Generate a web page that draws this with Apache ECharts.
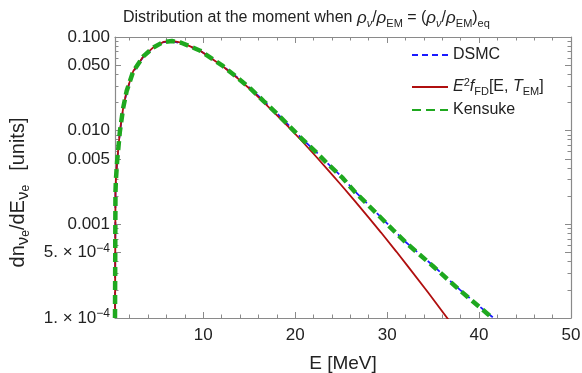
<!DOCTYPE html>
<html>
<head>
<meta charset="utf-8">
<script src="https://cdn.jsdelivr.net/npm/echarts@6/dist/echarts.min.js"></script>
<style>
  html, body { margin: 0; padding: 0; background: #fff; }
  #chart { width: 582px; height: 373px; }
</style>
</head>
<body>
<div id="chart"></div>
<script>
// values (E in MeV, dn/dE in arbitrary units)
const energyKensuke = [0.4, 0.45, 0.5, 0.63, 0.93, 1.29, 1.66, 2.38, 3.48, 4.57, 5.66, 6.6, 7.6, 8.58, 9.67, 12.04, 13.68, 15.14, 16.59, 18.05, 19.43, 20.79, 22.24, 23.7, 25.16, 26.43, 29.16, 30.6, 32.08, 35.0, 37.9, 41.0, 41.4]
const kensuke = [0.0001, 0.0022, 0.003, 0.0047, 0.0098, 0.0175, 0.0263, 0.043, 0.0621, 0.0774, 0.0885, 0.0905, 0.0868, 0.0794, 0.0714, 0.0498, 0.0371, 0.0281, 0.0206, 0.0151, 0.0110, 0.00807, 0.00593, 0.00427, 0.00313, 0.00225, 0.00122, 0.000877, 0.000632, 0.000357, 0.000198, 0.000109, 0.0001]

const energyDsmc = [0.4, 0.45, 0.5, 0.63, 0.93, 1.29, 1.66, 2.38, 3.48, 4.57, 5.66, 6.6, 7.6, 8.58, 9.67, 12.04, 13.68, 15.14, 16.59, 18.05, 19.43, 20.79, 22.24, 23.7, 25.16, 26.43, 29.16, 30.6, 32.08, 35.0, 37.9, 41.0, 41.6]
const dsmc = [0.0001, 0.0021, 0.0029, 0.0046, 0.0096, 0.0172, 0.026, 0.0425, 0.0615, 0.0768, 0.088, 0.0898, 0.0862, 0.079, 0.0712, 0.0497, 0.0372, 0.0282, 0.0207, 0.0152, 0.0111, 0.00812, 0.00598, 0.00431, 0.00316, 0.00228, 0.00124, 0.00089, 0.00064, 0.000362, 0.000201, 0.000111, 0.0001]

const energyFd = [0.4, 0.45, 0.5, 0.63, 0.93, 1.29, 1.66, 2.38, 3.48, 4.57, 5.66, 6.6, 7.6, 8.58, 9.67, 12.04, 13.68, 15.14, 16.59, 18.05, 19.43, 20.6, 22.24, 23.7, 25.0, 26.43, 28.0, 29.34, 31.0, 32.26, 34.5, 36.7]
const fd = [0.0001, 0.0022, 0.003, 0.0047, 0.0098, 0.0175, 0.0263, 0.043, 0.0621, 0.0774, 0.0885, 0.0908, 0.087, 0.0794, 0.0712, 0.0494, 0.0366, 0.0275, 0.02, 0.0145, 0.0106, 0.008, 0.00533, 0.00368, 0.00263, 0.0018, 0.00118, 0.000817, 0.000512, 0.000356, 0.000185, 0.000095]

// ticks
const xMajorTicks = [10, 20, 30, 40, 50]
const xMinorTicks = [2, 4, 6, 8, 12, 14, 16, 18, 22, 24, 26, 28, 32, 34, 36, 38, 42, 44, 46, 48]
const yMajorTicks = [0.1, 0.05, 0.01, 0.005, 0.001, 0.0005, 0.0001]
const yTickLabels = ['0.100', '0.050', '0.010', '0.005', '0.001', '5. × 10{sup|−4}', '1. × 10{sup|−4}']
const yMinorTicks = [0.09, 0.08, 0.07, 0.06, 0.04, 0.03, 0.02, 0.009, 0.008, 0.007, 0.006, 0.004, 0.003, 0.002,
  0.0009, 0.0008, 0.0007, 0.0006, 0.0004, 0.0003, 0.0002]

const legendLabels = {
  DSMC: 'DSMC',
  FD: '{i|E}{sup|2}{i|f}{sub|FD}[E, {i|T}{sub|EM}]',
  Kensuke: 'Kensuke'
}

const font = 'Liberation Sans, Arial, sans-serif'
const frameColor = '#8a8a8a'
const X_MIN = 0.4
const X_MAX = 50

const chart = echarts.init(document.getElementById('chart'))

const lg = Math.log10
const xAxisBase = (pos) => ({
  type: 'value', min: X_MIN, max: X_MAX, position: pos, gridIndex: 0,
  splitLine: { show: false },
  axisLine: { show: false },
  axisLabel: { show: false },
  axisTick: { show: false }
})
const yAxisBase = (pos) => ({
  type: 'value', min: -4, max: -1, position: pos, gridIndex: 0,
  splitLine: { show: false },
  axisLine: { show: false },
  axisLabel: { show: false },
  axisTick: { show: false }
})
const majorTick = (vals) => ({ show: true, inside: true, length: 6, customValues: vals, lineStyle: { color: frameColor, width: 1 } })
const minorTick = (vals) => ({ show: true, inside: true, length: 3.5, customValues: vals, lineStyle: { color: frameColor, width: 1 } })
const frameLine = { show: true, onZero: false, lineStyle: { color: frameColor, width: 1.2 } }

const xAxes = [
  Object.assign(xAxisBase('bottom'), {
    axisLine: frameLine,
    axisTick: majorTick(xMajorTicks),
    axisLabel: { show: true, customValues: xMajorTicks, margin: 9, fontSize: 17, color: '#222', fontFamily: font },
    name: 'E [MeV]', nameLocation: 'middle', nameGap: 36,
    nameTextStyle: { fontSize: 19, color: '#222', fontFamily: font }
  }),
  Object.assign(xAxisBase('bottom'), { axisTick: minorTick(xMinorTicks) }),
  Object.assign(xAxisBase('top'), { axisLine: frameLine, axisTick: majorTick(xMajorTicks) }),
  Object.assign(xAxisBase('top'), { axisTick: minorTick(xMinorTicks) })
]

const yAxes = [
  // data axis (log scale)
  { type: 'log', logBase: 10, min: 0.0001, max: 0.1, position: 'left', show: false },
  Object.assign(yAxisBase('left'), {
    axisLine: frameLine,
    axisTick: majorTick(yMajorTicks.map(lg)),
    axisLabel: {
      show: true, customValues: yMajorTicks.map(lg), margin: 5, fontSize: 17, color: '#222', fontFamily: font,
      lineHeight: 20,
      formatter: function(v) {
        const i = yMajorTicks.findIndex(t => Math.abs(lg(t) - v) < 1e-6)
        return i >= 0 ? yTickLabels[i] : ''
      },
      rich: { sup: { fontSize: 12, lineHeight: 11, verticalAlign: 'top', fontFamily: font, color: '#222' } }
    },
    name: 'dn{sub|ν}{subsub|e}/dE{sub|ν}{subsub|e}{sp| }[units]',
    nameLocation: 'middle', nameRotate: 90, nameGap: 83,
    nameTextStyle: {
      fontSize: 20, color: '#222', fontFamily: font, lineHeight: 28, padding: [0, 30, 0, 0],
      rich: {
        sub: { fontSize: 17, lineHeight: 19, verticalAlign: 'bottom', fontFamily: font, color: '#222' },
        subsub: { fontSize: 12, lineHeight: 11, verticalAlign: 'bottom', fontFamily: font, color: '#222' },
        sp: { fontSize: 20, width: 14 }
      }
    }
  }),
  Object.assign(yAxisBase('left'), { axisTick: minorTick(yMinorTicks.map(lg)) }),
  Object.assign(yAxisBase('right'), { axisLine: frameLine, axisTick: majorTick(yMajorTicks.map(lg)) }),
  Object.assign(yAxisBase('right'), { axisTick: minorTick(yMinorTicks.map(lg)) })
]

const toPairs = (xs, ys) => xs.map((x, i) => [x, ys[i]])

const legendRich = {
  i: { fontStyle: 'italic', fontSize: 16, fontFamily: font, color: '#222' },
  sup: { fontSize: 11, lineHeight: 11, verticalAlign: 'top', fontFamily: font, color: '#222' },
  sub: { fontSize: 11, lineHeight: 12, verticalAlign: 'bottom', fontFamily: font, color: '#222' }
}
const makeLegend = (name, top) => ({
  data: [name], orient: 'vertical', left: 406, top: top,
  itemWidth: 36, itemHeight: 14, selectedMode: false,
  itemStyle: { opacity: 0 },
  formatter: n => legendLabels[n],
  textStyle: { fontSize: 16, color: '#222', fontFamily: font, lineHeight: 20, rich: legendRich }
})

chart.setOption({
  animation: false,
  title: {
    text: 'Distribution at the moment when {i|ρ}{isub|ν}/{i|ρ}{sub|EM} = ({i|ρ}{isub|ν}/{i|ρ}{sub|EM}){sub|eq}',
    left: 118, top: 2,
    textStyle: {
      fontSize: 16, fontWeight: 'normal', color: '#222', fontFamily: font, lineHeight: 22,
      rich: {
        i: { fontStyle: 'italic', fontSize: 17, fontFamily: font, color: '#222' },
        isub: { fontStyle: 'italic', fontSize: 11, lineHeight: 13, verticalAlign: 'bottom', fontFamily: font, color: '#222' },
        sub: { fontSize: 11, lineHeight: 13, verticalAlign: 'bottom', fontFamily: font, color: '#222' }
      }
    }
  },
  legend: [makeLegend('DSMC', 40), makeLegend('FD', 72), makeLegend('Kensuke', 95)],
  grid: { left: 115, right: 11, top: 37, bottom: 55, containLabel: false, outerBoundsMode: 'none' },
  xAxis: xAxes,
  yAxis: yAxes,
  series: [
    {
      name: 'DSMC', type: 'line', xAxisIndex: 0, yAxisIndex: 0,
      data: toPairs(energyDsmc, dsmc), symbol: 'none', clip: true,
      lineStyle: { color: '#1a1aff', width: 1.8, type: [6, 4] }, z: 2
    },
    {
      name: 'FD', type: 'line', xAxisIndex: 0, yAxisIndex: 0,
      data: toPairs(energyFd, fd), symbol: 'none', clip: true,
      lineStyle: { color: '#b00f0f', width: 1.8 }, z: 3
    },
    {
      name: 'Kensuke', type: 'line', xAxisIndex: 0, yAxisIndex: 0,
      data: toPairs(energyKensuke, kensuke), symbol: 'none', clip: true,
      lineStyle: { color: '#1fa81f', width: 4.5, type: [9, 5], cap: 'butt' }, z: 4
    }
  ]
})
</script>
</body>
</html>
